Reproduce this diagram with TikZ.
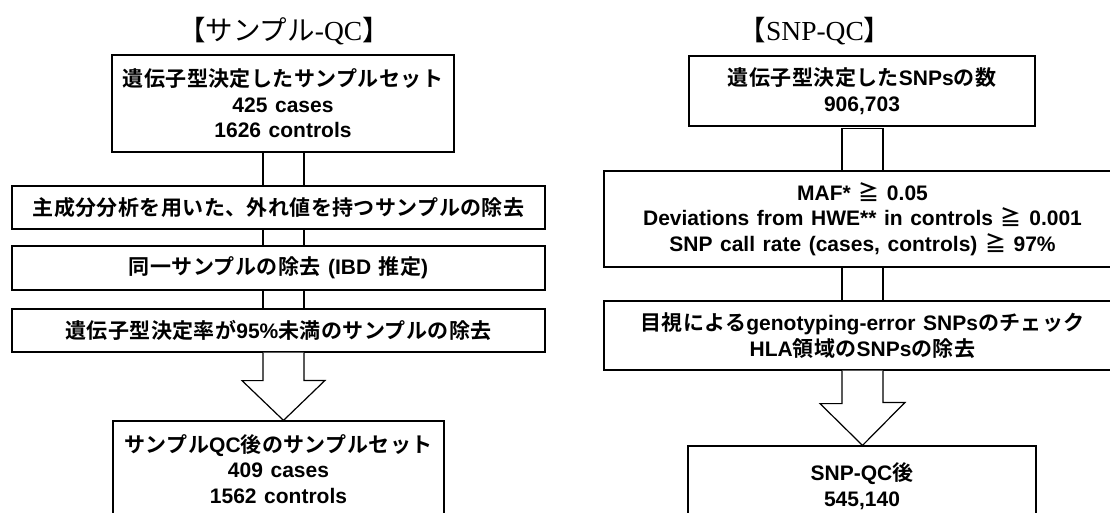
\documentclass[tikz,border=0pt]{standalone}
\usepackage{fontspec}
\setmainfont{Liberation Sans}[WordSpace=1.3]
\newfontfamily\jpfont{Noto Sans CJK JP}[BoldFont={Noto Sans CJK JP Bold},LetterSpace=2]
\newfontfamily\titjp{Noto Sans CJK JP}
\newfontfamily\titserif{Liberation Serif}
\usepackage{tikz}
\usetikzlibrary{calc,positioning}
\definecolor{tinta}{HTML}{000000}
\newcommand{\jp}[1]{{\jpfont #1}}
\tikzset{
  caja/.style={draw=tinta,line width=1.2pt,fill=white,align=center,inner sep=0pt,font=\fontsize{21}{25.5}\selectfont\bfseries},
  titulo/.style={inner sep=0pt,font=\fontsize{27.5}{30}\selectfont},
  enlace/.style={draw=tinta,line width=1.2pt},
  flecha/.style={draw=tinta,line width=1.2pt,fill=white,line join=miter},
}
\begin{document}
\begin{tikzpicture}[x=1pt,y=-1pt]
\useasboundingbox (0,0) rectangle (1110,513);
\clip (0,0) rectangle (1110,513);
\coordinate (ejeL) at (283.5,0);
\coordinate (izqA) at (263,0);
\coordinate (izqB) at (304,0);
\coordinate (ejeR) at (862.5,0);
\coordinate (derA) at (842,0);
\coordinate (derB) at (883,0);
\node[titulo] (tizq) at (284,31) {{\titjp 【サンプル}{\titserif -QC}{\titjp 】}};
\node[caja,minimum width=342pt,minimum height=97pt] (s1) at (283,103.5) {\jp{遺伝子型決定したサンプルセット}\\425 cases\\1626 controls};
\node[caja,minimum width=533pt,minimum height=43pt] (s2) at (278.5,207.5) {\jp{主成分分析を用いた、外れ値を持つサンプルの除去}};
\node[caja,minimum width=533pt,minimum height=44pt] (s3) at (278.5,268) {\jp{同一サンプルの除去} (IBD \jp{推定})};
\node[caja,minimum width=533pt,minimum height=43pt] (s4) at (278.5,330.5) {\jp{遺伝子型決定率が}95\%\jp{未満のサンプルの除去}};
\node[caja,minimum width=331pt,minimum height=96pt] (s5) at (278.5,469) {\jp{サンプル}QC\jp{後のサンプルセット}\\409 cases\\1562 controls};
\foreach \arriba/\abajo in {s1/s2,s2/s3,s3/s4}{
  \draw[enlace] (izqA |- \arriba.south) -- (izqA |- \abajo.north);
  \draw[enlace] (izqB |- \arriba.south) -- (izqB |- \abajo.north);
}
\draw[flecha] (izqA |- s4.south) -- ++(0,28) -- ++(-21,0) -- (ejeL |- s5.north) -- ++(41.5,-40) -- ++(-21,0) -- (izqB |- s4.south);
\node[titulo] (tder) at (815,31) {{\titjp 【}{\titserif SNP-QC}{\titjp 】}};
\node[caja,minimum width=346pt,minimum height=70pt] (r1) at (862,91) {\jp{遺伝子型決定した}SNPs\jp{の数}\\906,703};
\node[caja,minimum width=517pt,minimum height=96pt] (r2) at (862.5,219) {MAF* \jp{≧} 0.05\\Deviations from HWE** in controls \jp{≧} 0.001\\SNP call rate (cases, controls) \jp{≧} 97\%};
\node[caja,minimum width=517pt,minimum height=69pt] (r3) at (862.5,335.5) {\jp{目視による}genotyping-error SNPs\jp{のチェック}\\HLA\jp{領域の}SNPs\jp{の除去}};
\node[caja,minimum width=348pt,minimum height=80pt] (r5) at (862,486) {SNP-QC\jp{後}\\545,140};
\draw[enlace] ($(derA |- r1.south)+(0,2)$) rectangle (derB |- r2.north);
\draw[enlace] (derA |- r2.south) -- (derA |- r3.north);
\draw[enlace] (derB |- r2.south) -- (derB |- r3.north);
\draw[flecha] (derA |- r3.south) -- ++(0,33) -- ++(-22,0) -- (ejeR |- r5.north) -- ++(42.5,-43) -- ++(-22,0) -- (derB |- r3.south);
\end{tikzpicture}
\end{document}
